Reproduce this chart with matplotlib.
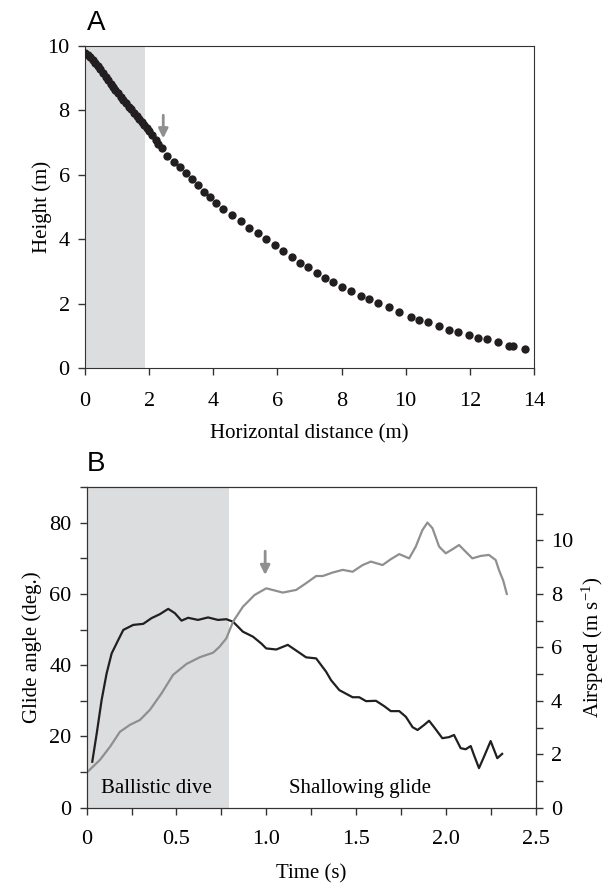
import matplotlib
matplotlib.use("Agg")
import matplotlib.pyplot as plt

plt.rcParams["font.family"] = ["Liberation Serif", "DejaVu Serif"]
plt.rcParams["mathtext.fontset"] = "custom"
plt.rcParams["mathtext.rm"] = "Liberation Serif"
plt.rcParams["mathtext.it"] = "Liberation Serif:italic"

# Panel A: trajectory
dist = [0.00, 0.08, 0.16, 0.24, 0.32, 0.40, 0.48, 0.56, 0.64, 0.72, 0.80, 0.88,
        0.95, 1.03, 1.11, 1.19, 1.28, 1.36, 1.44, 1.53, 1.61, 1.69, 1.77, 1.85,
        1.93, 2.01, 2.10, 2.20, 2.29, 2.39, 2.56, 2.77, 2.96, 3.15, 3.34, 3.53,
        3.71, 3.89, 4.08, 4.31, 4.58, 4.85, 5.12, 5.38, 5.65, 5.92, 6.18, 6.44,
        6.70, 6.95, 7.23, 7.48, 7.73, 8.01, 8.29, 8.60, 8.85, 9.13, 9.47, 9.78,
        10.16, 10.40, 10.69, 11.03, 11.34, 11.62, 11.96, 12.24, 12.52, 12.87,
        13.21, 13.33, 13.71]
height = [9.78, 9.73, 9.66, 9.58, 9.48, 9.38, 9.27, 9.16, 9.05, 8.94, 8.83, 8.72,
          8.63, 8.53, 8.43, 8.33, 8.22, 8.12, 8.03, 7.92, 7.83, 7.73, 7.64, 7.55,
          7.45, 7.35, 7.23, 7.09, 6.97, 6.82, 6.59, 6.41, 6.23, 6.05, 5.86, 5.68,
          5.48, 5.32, 5.11, 4.94, 4.74, 4.55, 4.36, 4.18, 4.00, 3.82, 3.62, 3.44,
          3.26, 3.14, 2.95, 2.80, 2.67, 2.52, 2.39, 2.24, 2.14, 2.02, 1.89, 1.74,
          1.58, 1.49, 1.43, 1.30, 1.18, 1.12, 1.02, 0.93, 0.90, 0.81,
          0.68, 0.68, 0.59]

# Panel B: glide angle (left axis)
t_angle = [0.031, 0.056, 0.083, 0.111, 0.139, 0.176, 0.204, 0.259, 0.315, 0.361,
           0.407, 0.454, 0.491, 0.528, 0.565, 0.620, 0.676, 0.731, 0.778, 0.815,
           0.870, 0.926, 0.972, 1.000, 1.056, 1.120, 1.167, 1.222, 1.278, 1.333,
           1.361, 1.407, 1.481, 1.518, 1.556, 1.611, 1.657, 1.694, 1.741, 1.778,
           1.815, 1.843, 1.879, 1.907, 1.935, 1.981, 2.018, 2.046, 2.083, 2.111,
           2.139, 2.157, 2.185, 2.213, 2.250, 2.287, 2.314]
angle = [12.9, 20.9, 30.2, 37.7, 43.3, 47.1, 49.9, 51.3, 51.6, 53.2,
         54.3, 55.8, 54.6, 52.5, 53.3, 52.7, 53.4, 52.7, 52.9, 52.2,
         49.4, 48.0, 46.1, 44.7, 44.4, 45.7, 44.1, 42.2, 41.9, 38.2,
         35.8, 33.0, 31.0, 31.0, 29.9, 30.0, 28.5, 27.1, 27.1, 25.5,
         22.6, 21.8, 23.2, 24.4, 22.6, 19.5, 19.8, 20.4, 16.7, 16.4,
         17.3, 14.8, 11.1, 14.3, 18.7, 13.9, 15.1]

# Panel B: airspeed (right axis)
t_speed = [0.000, 0.074, 0.130, 0.185, 0.241, 0.296, 0.352, 0.417, 0.481, 0.556,
           0.630, 0.704, 0.741, 0.778, 0.815, 0.870, 0.935, 1.000, 1.092, 1.167,
           1.222, 1.278, 1.315, 1.370, 1.426, 1.481, 1.537, 1.583, 1.648, 1.694,
           1.741, 1.796, 1.833, 1.870, 1.898, 1.926, 1.963, 2.000, 2.037, 2.074,
           2.111, 2.148, 2.194, 2.240, 2.278, 2.296, 2.320, 2.340]
speed = [1.31, 1.79, 2.28, 2.84, 3.10, 3.28, 3.66, 4.28, 4.97, 5.38,
         5.63, 5.80, 6.03, 6.34, 6.96, 7.52, 7.96, 8.21, 8.05, 8.15,
         8.40, 8.67, 8.67, 8.80, 8.90, 8.83, 9.08, 9.21, 9.08, 9.30,
         9.49, 9.33, 9.77, 10.39, 10.67, 10.46, 9.77, 9.52, 9.67, 9.83,
         9.58, 9.33, 9.42, 9.46, 9.27, 8.90, 8.50, 8.00]

SHADE = "#dcdddf"
GRAY = "#8f8f8f"
BLACK = "#231f20"
SPINE = "#333333"
FS = 15
TFS = 16

fig = plt.figure(figsize=(6.08, 8.86), dpi=100)

# ---- Panel A ----
axA = fig.add_axes([0.1398, 0.5847, 0.7385, 0.3634])
axA.axvspan(0, 1.87, color=SHADE, lw=0, zorder=0)
axA.scatter(dist, height, s=36, color=BLACK, lw=0, zorder=3)
axA.annotate("", xy=(2.44, 7.13), xytext=(2.44, 7.85),
             arrowprops=dict(arrowstyle="-|>", color=GRAY, lw=2,
                             mutation_scale=14, shrinkA=0, shrinkB=0))
axA.set_xlim(0, 14)
axA.set_ylim(0, 10)
axA.set_xticks(range(0, 15, 2))
axA.set_yticks(range(0, 11, 2))
axA.set_xlabel("Horizontal distance (m)", fontsize=FS, labelpad=10)
axA.set_ylabel("Height (m)", fontsize=FS, labelpad=-3)
axA.tick_params(direction="out", length=5, width=1, labelsize=TFS, pad=6,
                color=SPINE)
axA.tick_params(axis="x", pad=12)
for s in axA.spines.values():
    s.set_color(SPINE)
fig.text(0.143, 0.966, "A", fontsize=20, family="Liberation Sans", ha="left")

# ---- Panel B ----
axB = fig.add_axes([0.1426, 0.0884, 0.7382, 0.3619])
axB.axvspan(0, 0.79, color=SHADE, lw=0, zorder=0)
axB.plot(t_angle, angle, color=BLACK, lw=1.6, zorder=3,
         solid_joinstyle="round")
axB.set_xlim(0, 2.5)
axB.set_ylim(0, 90)
axB.set_xticks([0, 0.5, 1.0, 1.5, 2.0, 2.5])
axB.set_xticklabels(["0", "0.5", "1.0", "1.5", "2.0", "2.5"])
axB.set_xticks([0.25, 0.75, 1.25, 1.75, 2.25], minor=True)
axB.set_yticks([0, 20, 40, 60, 80])
axB.set_yticks([10, 30, 50, 70, 90], minor=True)
axB.set_xlabel("Time (s)", fontsize=FS, labelpad=11)
axB.set_ylabel("Glide angle (deg.)", fontsize=FS, labelpad=5)
axB.tick_params(which="both", direction="out", length=5, width=1,
                labelsize=TFS, pad=6, color=SPINE)
axB.tick_params(axis="x", pad=11)
axB.text(0.39, 5.5, "Ballistic dive", fontsize=FS, ha="center", va="center")
axB.text(1.52, 5.5, "Shallowing glide", fontsize=FS, ha="center", va="center")
axB.annotate("", xy=(0.994, 65.3), xytext=(0.994, 72.0),
             arrowprops=dict(arrowstyle="-|>", color=GRAY, lw=2,
                             mutation_scale=14, shrinkA=0, shrinkB=0))

axS = axB.twinx()
axS.plot(t_speed, speed, color=GRAY, lw=1.6, solid_joinstyle="round")
axS.set_ylim(0, 12)
axS.set_yticks([0, 2, 4, 6, 8, 10])
axS.set_yticks([1, 3, 5, 7, 9, 11], minor=True)
axS.set_ylabel("Airspeed (m s$^{-1}$)", fontsize=FS, labelpad=5)
axS.tick_params(which="both", direction="out", length=5, width=1,
                labelsize=TFS, pad=6, color=SPINE)
for ax in (axB, axS):
    for s in ax.spines.values():
        s.set_color(SPINE)
fig.text(0.143, 0.468, "B", fontsize=20, family="Liberation Sans", ha="left")

fig.savefig("out.png", dpi=100)
